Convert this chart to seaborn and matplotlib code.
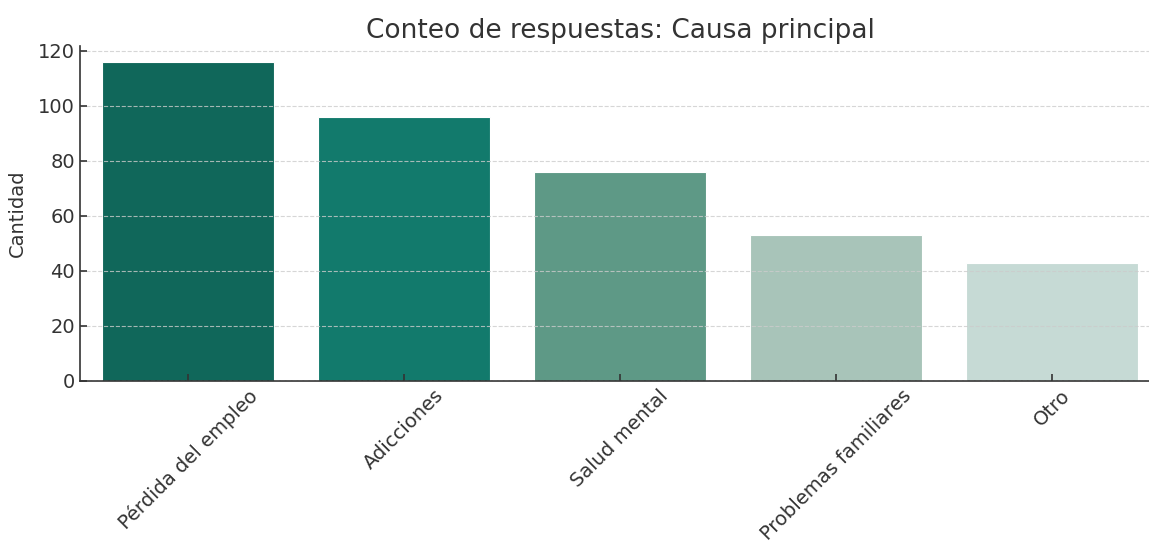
import matplotlib
matplotlib.use("Agg")
import matplotlib.pyplot as plt
import seaborn as sns
import pandas as pd

causas = ["Pérdida del empleo", "Adicciones", "Salud mental", "Problemas familiares", "Otro"]
cantidades = [116, 96, 76, 53, 43]
colores = ["#10675A", "#127A6C", "#5E9986", "#A8C4B9", "#C6DAD5"]

sns.set_theme(style="white")
plt.rcParams["font.family"] = ["DejaVu Sans"]

df = pd.DataFrame({"Causa": causas, "Cantidad": cantidades})

fig = plt.figure(figsize=(11.49, 5.43), dpi=100)
ax = fig.add_axes([80 / 1149, 1 - 381 / 543, 1080 / 1149, 335 / 543])

sns.barplot(data=df, x="Causa", y="Cantidad", hue="Causa", palette=colores,
            saturation=1, legend=False, width=0.8, edgecolor="white",
            linewidth=0.8, ax=ax)

ax.set_xlim(-0.5, 4.5)
ax.set_ylim(0, 121.8)
ax.set_yticks([0, 20, 40, 60, 80, 100, 120])
ax.set_axisbelow(False)
ax.grid(axis="y", linestyle="--", color="#cccccc", linewidth=0.8, alpha=0.8)

ax.set_title("Conteo de respuestas: Causa principal", fontsize=19, color="#333333", pad=6)
ax.set_xlabel("")
ax.set_ylabel("Cantidad", fontsize=14, color="#333333", labelpad=8)

ax.tick_params(axis="both", direction="in", length=5, width=1.2, color="#333333",
               labelsize=14, labelcolor="#333333", bottom=True, left=True)
plt.setp(ax.get_xticklabels(), rotation=45, ha="center")

for side in ["top", "right"]:
    ax.spines[side].set_visible(False)
for side in ["left", "bottom"]:
    ax.spines[side].set_color("#333333")
    ax.spines[side].set_linewidth(1.2)

fig.savefig("out.png", dpi=100)
